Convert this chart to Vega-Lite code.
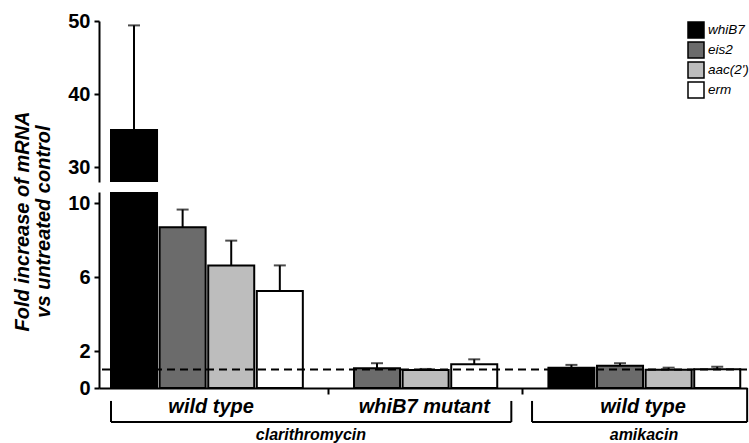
{
  "$schema": "https://vega.github.io/schema/vega-lite/v6.json",
  "background": "white",
  "padding": {"left": 11, "top": 11, "right": 0, "bottom": 0},
  "spacing": 10,
  "bounds": "flush",
  "datasets": {
    "expr": [
      {"treatment": "clarithromycin", "strain": "wild type", "gene": "whiB7", "bar": "c_wt_whiB7", "value": 35.1, "upper": 49.4},
      {"treatment": "clarithromycin", "strain": "wild type", "gene": "eis2", "bar": "c_wt_eis2", "value": 8.69, "upper": 9.65},
      {"treatment": "clarithromycin", "strain": "wild type", "gene": "aac(2')", "bar": "c_wt_aac", "value": 6.63, "upper": 7.97},
      {"treatment": "clarithromycin", "strain": "wild type", "gene": "erm", "bar": "c_wt_erm", "value": 5.24, "upper": 6.63},
      {"treatment": "clarithromycin", "strain": "whiB7 mutant", "gene": "eis2", "bar": "c_mut_eis2", "value": 1.07, "upper": 1.34},
      {"treatment": "clarithromycin", "strain": "whiB7 mutant", "gene": "aac(2')", "bar": "c_mut_aac", "value": 0.98, "upper": 1.03},
      {"treatment": "clarithromycin", "strain": "whiB7 mutant", "gene": "erm", "bar": "c_mut_erm", "value": 1.28, "upper": 1.55},
      {"treatment": "amikacin", "strain": "wild type", "gene": "whiB7", "bar": "a_wt_whiB7", "value": 1.10, "upper": 1.25},
      {"treatment": "amikacin", "strain": "wild type", "gene": "eis2", "bar": "a_wt_eis2", "value": 1.21, "upper": 1.34},
      {"treatment": "amikacin", "strain": "wild type", "gene": "aac(2')", "bar": "a_wt_aac", "value": 0.99, "upper": 1.10},
      {"treatment": "amikacin", "strain": "wild type", "gene": "erm", "bar": "a_wt_erm", "value": 1.01, "upper": 1.15}
    ]
  },
  "config": {
    "view": {"stroke": null},
    "font": "Liberation Sans",
    "axis": {
      "grid": false,
      "domainColor": "black",
      "domainWidth": 2,
      "tickColor": "black",
      "tickWidth": 2,
      "tickSize": 5,
      "labelColor": "black",
      "labelFont": "Liberation Sans",
      "labelFontSize": 20,
      "labelFontWeight": "bold",
      "labelPadding": 4,
      "titleColor": "black",
      "titleFont": "Liberation Sans"
    }
  },
  "resolve": {
    "scale": {"x": "independent", "y": "independent", "fill": "independent"},
    "legend": {"fill": "independent"}
  },
  "vconcat": [
    {
      "width": 648,
      "height": 161,
      "data": {"name": "expr"},
      "encoding": {
        "x": {
          "field": "bar",
          "type": "nominal",
          "axis": null,
          "scale": {
            "domain": ["c_wt_whiB7", "c_wt_eis2", "c_wt_aac", "c_wt_erm", "gap1", "c_mut_eis2", "c_mut_aac", "c_mut_erm", "gap2", "a_wt_whiB7", "a_wt_eis2", "a_wt_aac", "a_wt_erm"],
            "paddingInner": 0.053,
            "paddingOuter": 0.193,
            "align": 0.64
          }
        }
      },
      "layer": [
        {
          "mark": {"type": "bar", "stroke": "black", "strokeWidth": 2, "clip": true},
          "encoding": {
            "y": {
              "field": "value",
              "type": "quantitative",
              "scale": {"domain": [28, 50], "nice": false, "zero": false},
              "axis": {"values": [30, 40, 50], "title": null}
            },
            "fill": {
              "field": "gene",
              "type": "nominal",
              "scale": {"domain": ["whiB7", "eis2", "aac(2')", "erm"], "range": ["#000000", "#6b6b6b", "#bdbdbd", "#ffffff"]},
              "legend": {
                "orient": "none",
                "legendX": 588,
                "legendY": 0,
                "title": null,
                "symbolType": "square",
                "symbolSize": 256,
                "symbolStrokeColor": "black",
                "symbolStrokeWidth": 1.5,
                "labelFont": "Liberation Sans",
                "labelFontStyle": "italic",
                "labelFontSize": 13.5,
                "labelColor": "black",
                "rowPadding": -7,
                "labelOffset": 3
              }
            }
          }
        },
        {
          "mark": {"type": "rule", "color": "black", "strokeWidth": 2, "clip": true},
          "encoding": {
            "y": {"field": "value", "type": "quantitative"},
            "y2": {"field": "upper"}
          }
        },
        {
          "mark": {"type": "tick", "color": "black", "size": 12, "thickness": 2, "clip": true},
          "encoding": {
            "y": {"field": "upper", "type": "quantitative"}
          }
        }
      ]
    },
    {
      "width": 648,
      "height": 196,
      "layer": [
        {
          "data": {"name": "expr"},
          "encoding": {
            "x": {
              "field": "bar",
              "type": "nominal",
              "scale": {
                "domain": ["c_wt_whiB7", "c_wt_eis2", "c_wt_aac", "c_wt_erm", "gap1", "c_mut_eis2", "c_mut_aac", "c_mut_erm", "gap2", "a_wt_whiB7", "a_wt_eis2", "a_wt_aac", "a_wt_erm"],
                "paddingInner": 0.053,
                "paddingOuter": 0.193,
                "align": 0.64
              },
              "axis": {"values": ["gap1", "gap2"], "labels": false, "ticks": true, "tickSize": 6, "title": null}
            }
          },
          "layer": [
            {
              "mark": {"type": "bar", "stroke": "black", "strokeWidth": 2, "clip": true},
              "encoding": {
                "y": {
                  "field": "value",
                  "type": "quantitative",
                  "scale": {"domain": [0, 10.6], "nice": false},
                  "axis": {
                    "values": [0, 2, 6, 10],
                    "title": ["Fold increase of mRNA", "vs untreated control"],
                    "titleFontSize": 20,
                    "titleFontWeight": "bold",
                    "titleFontStyle": "italic",
                    "titleLineHeight": 21,
                    "titleAngle": -90,
                    "titleX": -71,
                    "titleY": 29,
                    "titleAlign": "center",
                    "titleBaseline": "alphabetic"
                  }
                },
                "fill": {
                  "field": "gene",
                  "type": "nominal",
                  "scale": {"domain": ["whiB7", "eis2", "aac(2')", "erm"], "range": ["#000000", "#6b6b6b", "#bdbdbd", "#ffffff"]},
                  "legend": null
                }
              }
            },
            {
              "mark": {"type": "rule", "color": "black", "strokeWidth": 2, "clip": true},
              "encoding": {
                "y": {"field": "value", "type": "quantitative"},
                "y2": {"field": "upper"}
              }
            },
            {
              "mark": {"type": "tick", "color": "black", "size": 12, "thickness": 2, "clip": true},
              "encoding": {
                "y": {"field": "upper", "type": "quantitative"}
              }
            }
          ]
        },
        {
          "data": {"values": [{}]},
          "mark": {"type": "rule", "color": "black", "strokeWidth": 2, "strokeDash": [8, 5]},
          "encoding": {"y": {"datum": 1}}
        },
        {
          "data": {"values": [{}]},
          "mark": {"type": "rule", "color": "black", "strokeWidth": 2, "clip": false},
          "encoding": {
            "x": {"datum": "c_wt_whiB7", "bandPosition": 0},
            "x2": {"datum": "gap2", "bandPosition": 0.25},
            "y": {"datum": -1.84}
          }
        },
        {
          "data": {"values": [{}]},
          "mark": {"type": "rule", "color": "black", "strokeWidth": 2, "clip": false},
          "encoding": {
            "x": {"datum": "c_wt_whiB7", "bandPosition": 0},
            "y": {"datum": -0.7},
            "y2": {"datum": -1.84}
          }
        },
        {
          "data": {"values": [{}]},
          "mark": {"type": "rule", "color": "black", "strokeWidth": 2, "clip": false},
          "encoding": {
            "x": {"datum": "gap2", "bandPosition": 0.25},
            "y": {"datum": -0.7},
            "y2": {"datum": -1.84}
          }
        },
        {
          "data": {"values": [{}]},
          "mark": {"type": "rule", "color": "black", "strokeWidth": 2, "clip": false},
          "encoding": {
            "x": {"datum": "gap2", "bandPosition": 0.7},
            "x2": {"datum": "a_wt_erm", "bandPosition": 1.15},
            "y": {"datum": -1.84}
          }
        },
        {
          "data": {"values": [{}]},
          "mark": {"type": "rule", "color": "black", "strokeWidth": 2, "clip": false},
          "encoding": {
            "x": {"datum": "gap2", "bandPosition": 0.7},
            "y": {"datum": -0.7},
            "y2": {"datum": -1.84}
          }
        },
        {
          "data": {"values": [{}]},
          "mark": {"type": "rule", "color": "black", "strokeWidth": 2, "clip": false},
          "encoding": {
            "x": {"datum": "a_wt_erm", "bandPosition": 1.15},
            "y": {"datum": 0},
            "y2": {"datum": -1.84}
          }
        },
        {
          "data": {"values": [{}]},
          "mark": {"type": "text", "text": "wild type", "font": "Liberation Sans", "fontSize": 20, "fontWeight": "bold", "fontStyle": "italic", "align": "center", "baseline": "alphabetic", "color": "black", "clip": false},
          "encoding": {"x": {"datum": "c_wt_eis2", "bandPosition": 1.12}, "y": {"datum": -1.355}}
        },
        {
          "data": {"values": [{}]},
          "mark": {"type": "text", "text": "whiB7 mutant", "font": "Liberation Sans", "fontSize": 20, "fontWeight": "bold", "fontStyle": "italic", "align": "center", "baseline": "alphabetic", "color": "black", "clip": false},
          "encoding": {"x": {"datum": "c_mut_aac", "bandPosition": 0.47}, "y": {"datum": -1.355}}
        },
        {
          "data": {"values": [{}]},
          "mark": {"type": "text", "text": "wild type", "font": "Liberation Sans", "fontSize": 20, "fontWeight": "bold", "fontStyle": "italic", "align": "center", "baseline": "alphabetic", "color": "black", "clip": false},
          "encoding": {"x": {"datum": "a_wt_eis2", "bandPosition": 1.0}, "y": {"datum": -1.355}}
        },
        {
          "data": {"values": [{}]},
          "mark": {"type": "text", "text": "clarithromycin", "font": "Liberation Sans", "fontSize": 16, "fontWeight": "bold", "fontStyle": "italic", "align": "center", "baseline": "alphabetic", "color": "black", "clip": false},
          "encoding": {"x": {"datum": "gap1", "bandPosition": 0.12}, "y": {"datum": -2.8}}
        },
        {
          "data": {"values": [{}]},
          "mark": {"type": "text", "text": "amikacin", "font": "Liberation Sans", "fontSize": 16, "fontWeight": "bold", "fontStyle": "italic", "align": "center", "baseline": "alphabetic", "color": "black", "clip": false},
          "encoding": {"x": {"datum": "a_wt_eis2", "bandPosition": 1.02}, "y": {"datum": -2.8}}
        }
      ]
    }
  ]
}
